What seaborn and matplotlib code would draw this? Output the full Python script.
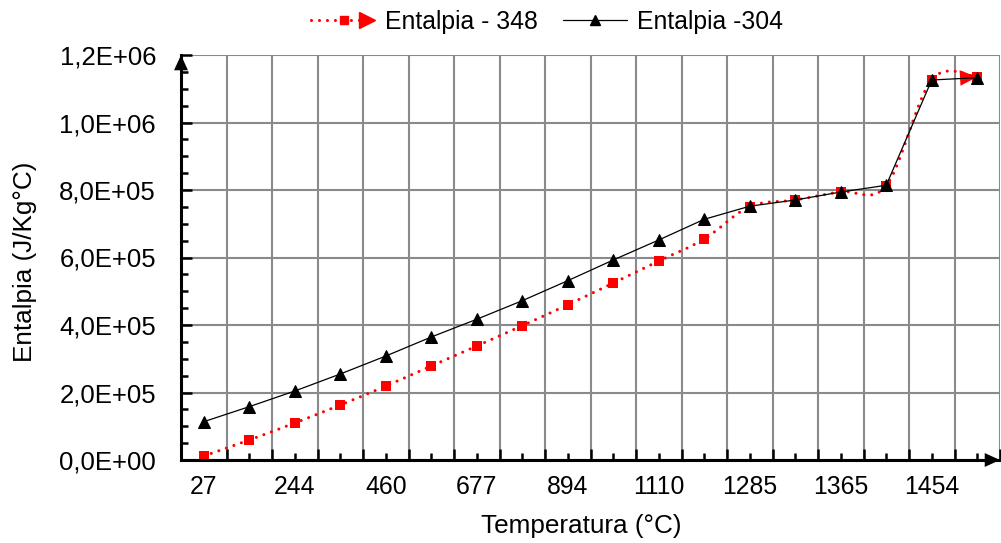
import matplotlib
matplotlib.use("Agg")
import matplotlib.pyplot as plt
from matplotlib.path import Path
from matplotlib.patches import PathPatch
from matplotlib.lines import Line2D
from matplotlib.legend_handler import HandlerBase
from matplotlib.ticker import FuncFormatter, MultipleLocator
import numpy as np
import pandas as pd
import seaborn as sns

# Enthalpy versus temperature for two steels (J/Kg°C)
x_labels = ["27", "244", "460", "677", "894", "1110", "1285", "1365", "1454"]
h348 = [11800, 59300, 109600, 163000, 219000, 278500, 337800, 398000, 460000,
        524400, 589600, 654800, 751000, 770400, 795000, 813000, 1127000, 1135000]
h304 = [113500, 158000, 204400, 254800, 308000, 364400, 417000, 472000, 531300,
        592600, 651900, 713200, 752000, 770400, 794000, 814000, 1126000, 1132700]
series_names = ["Entalpia - 348", "Entalpia -304"]

sns.set_style("white")
plt.rcParams["font.family"] = ["Liberation Sans", "DejaVu Sans"]
plt.rcParams.update({"text.color": "black", "axes.labelcolor": "black",
                     "xtick.color": "black", "ytick.color": "black"})
FS = 17.8
FS_Y = 18.5
FS_TITLE = 18.8
GRID = "#8a8a8a"

n = len(h348)
idx = np.arange(n)
df = pd.DataFrame({"pos": np.concatenate([idx, idx]),
                   "h": h348 + h304,
                   "serie": [series_names[0]] * n + [series_names[1]] * n})

fig = plt.figure(figsize=(10.01, 5.43), dpi=100)
ax = fig.add_axes([181 / 1001, 83 / 543, 819 / 1001, 405 / 543])

# smoothed (Catmull-Rom style Bezier) dotted curve for the 348 series
pts = np.column_stack([idx, np.array(h348, dtype=float)])
verts = [pts[0]]
codes = [Path.MOVETO]
for i in range(n - 1):
    p_prev = pts[i - 1] if i > 0 else pts[i]
    p_next = pts[i + 2] if i + 2 < n else pts[i + 1]
    c1 = pts[i] + (pts[i + 1] - p_prev) / 6.0
    c2 = pts[i + 1] - (p_next - pts[i]) / 6.0
    verts += [c1, c2, pts[i + 1]]
    codes += [Path.CURVE4] * 3
red_dots = (0, (0.01, 2.6))
ax.add_patch(PathPatch(Path(verts, codes), fill=False, edgecolor="red", lw=2.2,
                       linestyle=red_dots, capstyle="round", zorder=3))

d348 = df[df["serie"] == series_names[0]]
d304 = df[df["serie"] == series_names[1]]
sns.scatterplot(data=d348, x="pos", y="h", marker="s", s=46, color="red",
                edgecolor="red", linewidth=0, ax=ax, zorder=4, legend=False)
# arrow head at the end of the 348 curve
ax.annotate("", xy=(pts[-1][0], pts[-1][1]), xytext=(pts[-2][0], pts[-2][1]),
            arrowprops=dict(arrowstyle="-|>,head_length=0.62,head_width=0.28",
                            color="red", lw=0, mutation_scale=20,
                            shrinkA=0, shrinkB=0), zorder=4)

sns.lineplot(data=d304, x="pos", y="h", color="black", lw=0.9, marker="^",
             markersize=8.5, markeredgecolor="black", estimator=None,
             ax=ax, zorder=5, legend=False)

# axes
ax.set_xlim(-0.5, 17.28)
ax.set_ylim(0, 1.2e6)
ax.set_xticks(idx)
ax.set_xticklabels([x_labels[i // 2] if i % 2 == 0 else "" for i in idx])
ax.set_xticks(np.arange(-0.5, n, 1.0)[1:], minor=True)
ax.yaxis.set_major_locator(MultipleLocator(2e5))
ax.yaxis.set_minor_locator(MultipleLocator(5e4))
ax.yaxis.set_major_formatter(FuncFormatter(lambda v, p: f"{v:.1E}".replace(".", ",")))

ax.grid(False)
ax.grid(True, axis="x", which="minor", color=GRID, lw=1.5)
ax.grid(True, axis="y", which="major", color=GRID, lw=1.5)
ax.set_axisbelow(True)

ax.tick_params(axis="x", which="major", direction="in", length=5, width=1.8,
               labelsize=FS, pad=11, colors="black", bottom=True)
ax.tick_params(axis="x", which="minor", direction="in", length=8, width=1.8,
               bottom=True, colors="black")
ax.tick_params(axis="y", which="major", direction="in", length=8, width=1.8,
               labelsize=FS_Y, pad=18, left=True, colors="black")
ax.tick_params(axis="y", which="minor", direction="in", length=5, width=1.8,
               left=True, colors="black")

for s in ["top", "right"]:
    ax.spines[s].set_visible(False)
for s in ["left", "bottom"]:
    ax.spines[s].set_color("black")
    ax.spines[s].set_linewidth(2.2)
    ax.spines[s].set_zorder(6)

# arrow heads on the axis lines
for xy, xyt in [((0, 1), (0, 0.9)), ((1, 0), (0.9, 0))]:
    ax.annotate("", xy=xy, xytext=xyt, xycoords="axes fraction",
                textcoords="axes fraction",
                arrowprops=dict(arrowstyle="-|>,head_length=0.55,head_width=0.25",
                                color="black", lw=0, mutation_scale=20,
                                shrinkA=0, shrinkB=0),
                annotation_clip=False, zorder=7)

ax.set_xlabel("Temperatura (°C)", fontsize=FS_TITLE, color="black")
ax.xaxis.set_label_coords((581 - 181) / 819, -54 / 405)
ax.set_ylabel("Entalpia (J/Kg°C)", fontsize=FS_TITLE, color="black")
ax.yaxis.set_label_coords((37 - 181) / 819, (460 - 262) / 405)


class ArrowLineHandler(HandlerBase):
    def create_artists(self, legend, orig_handle, xdescent, ydescent, width,
                       height, fontsize, trans):
        y = height / 2 - ydescent
        x0, x1 = -xdescent, width - xdescent
        line = Line2D([x0, x1 - 0.2 * width], [y, y], color="red", lw=2.2,
                      linestyle=red_dots, dash_capstyle="round")
        sq = Line2D([x0 + 0.52 * width], [y], marker="s", ms=6, color="red", ls="")
        tri = Line2D([x1 - 0.13 * width], [y], marker=">", ms=12, color="red", ls="")
        for a in (line, sq, tri):
            a.set_transform(trans)
        return [line, sq, tri]


h_red = Line2D([], [], color="red")
h_blk = Line2D([], [], color="black", lw=0.9, marker="^", ms=7)
leg = ax.legend(handles=[h_red, h_blk], labels=series_names,
                handler_map={h_red: ArrowLineHandler()}, loc="center",
                bbox_to_anchor=(547 / 1001, 1 - 22 / 543),
                bbox_transform=fig.transFigure,
                ncol=2, frameon=False, fontsize=FS, handlelength=2.6,
                handletextpad=0.4, columnspacing=1.0, borderaxespad=0)
for t in leg.get_texts():
    t.set_color("black")

fig.savefig("out.png", dpi=100)
